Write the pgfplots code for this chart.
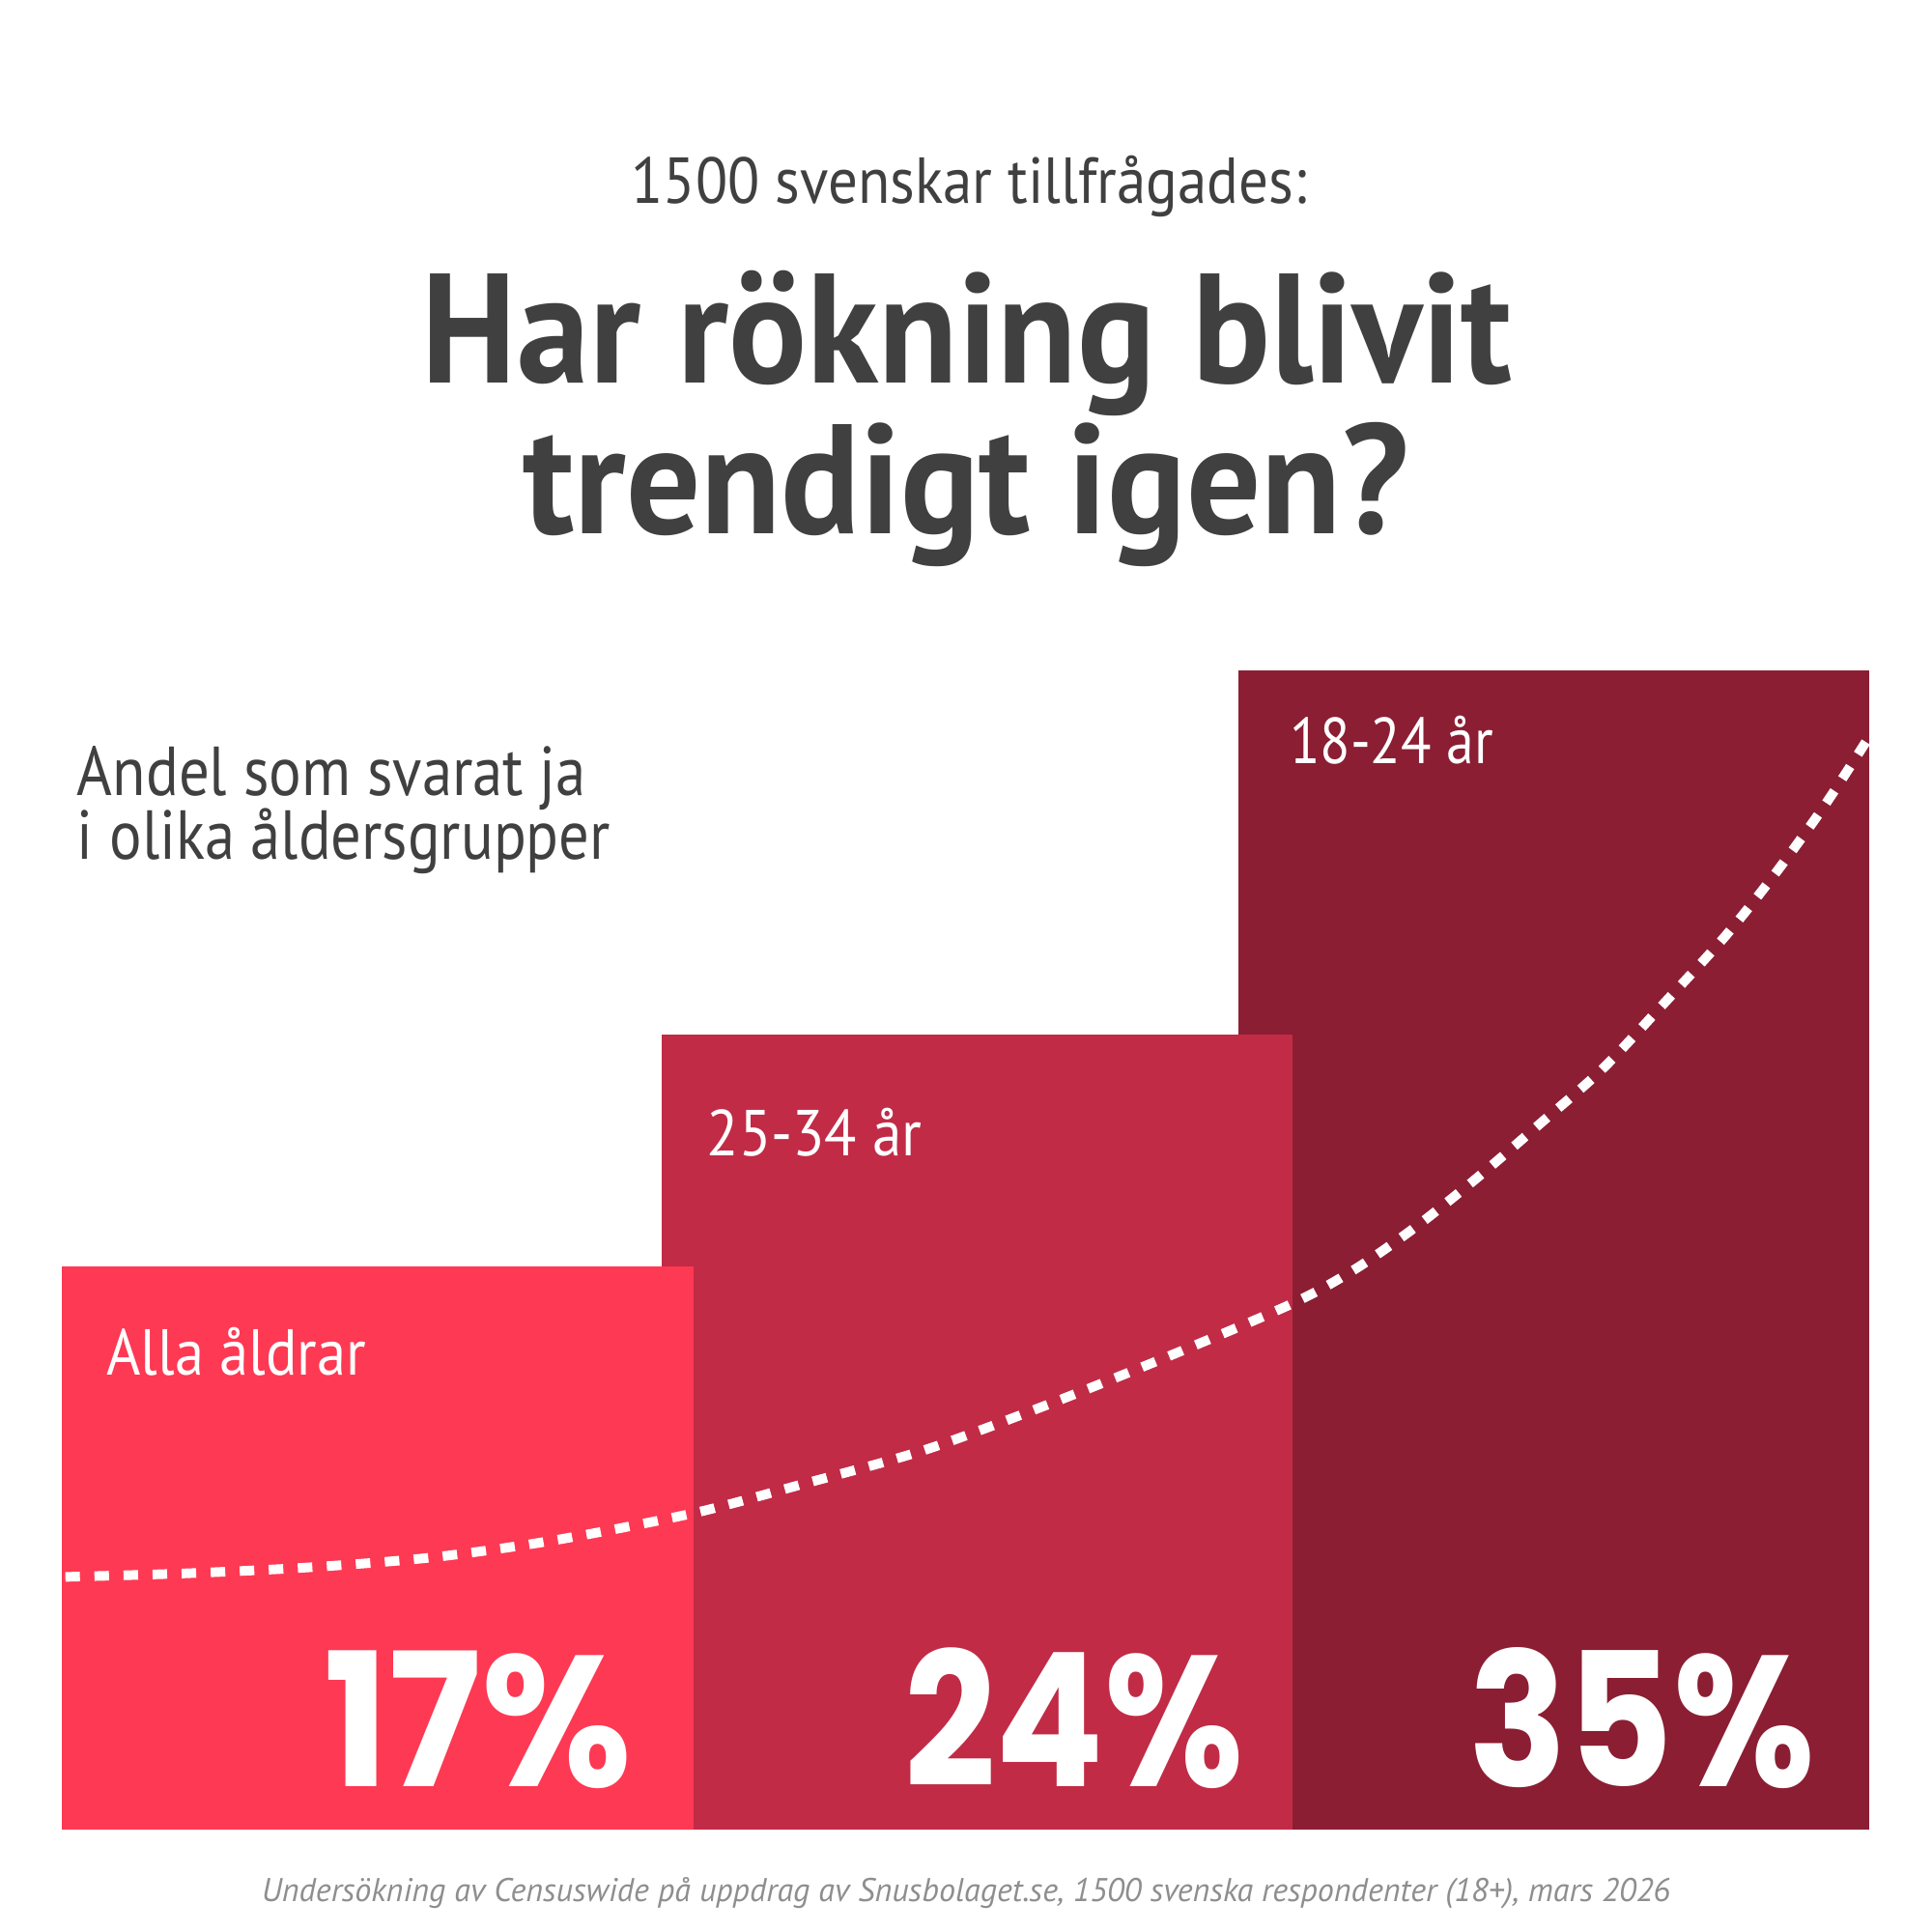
\documentclass[border=0pt]{standalone}
\usepackage{graphicx}
\usepackage{pgfplots}
\pgfplotsset{compat=1.18}
\usepackage{fontspec}
\setmainfont{PT Sans}
\newfontfamily\pop{Poppins}
\definecolor{barA}{HTML}{FE3953}
\definecolor{barB}{HTML}{C12B46}
\definecolor{barC}{HTML}{8B1E33}
\definecolor{txt}{HTML}{404040}
\definecolor{foot}{HTML}{8E8E8E}
\begin{document}
\begin{tikzpicture}
\fill[white] (0,0) rectangle (156.8mm,156.8mm);
\begin{axis}[at={(5mm,8.3mm)}, anchor=south west, scale only axis,
  width=146.7mm, height=107.52mm, xmin=50, xmax=1517, ymin=0, ymax=40,
  hide axis, bar shift=0pt, bar width=512.5]
\addplot[ybar, fill=barC, draw=none] coordinates {(1261,35)};
\addplot[ybar, fill=barB, draw=none] coordinates {(793,24)};
\addplot[ybar, fill=barA, draw=none] coordinates {(306.5,17)};
\addplot[white, line width=0.78mm, dash pattern=on 1.18mm off 1.18mm, dash phase=0.9mm, smooth] coordinates {
(40,7.60) (50,7.63) (150,7.74) (250,7.92) (350,8.22) (450,8.74) (563,9.56) (650,10.42)
(750,11.46) (850,12.83) (950,14.32) (1049,15.89) (1100,16.93) (1150,18.23)
(1200,19.72) (1250,21.32) (1300,22.95) (1350,24.93) (1400,26.97) (1440,28.83)
(1480,30.88) (1517,33.0) (1530,33.8)};
\end{axis}
\begin{scope}[x=0.1mm,y=0.1mm]
\node[anchor=base, text=txt, font=\fontsize{15}{18}\selectfont, inner sep=0] at (786.5,1403) {\scalebox{0.907}[1]{1500 svenskar tillfrågades:}};
\node[anchor=base, text=txt, font=\fontsize{36}{40}\selectfont\bfseries, inner sep=0] at (785,1257) {\scalebox{0.936}[1]{Har rökning blivit}};
\node[anchor=base, text=txt, font=\fontsize{36}{40}\selectfont\bfseries, inner sep=0] at (784,1135) {\scalebox{0.945}[1]{trendigt igen?}};
\node[anchor=base west, text=txt, font=\fontsize{16}{18}\selectfont, inner sep=0] at (62,922) {\scalebox{0.877}[1]{Andel som svarat ja}};
\node[anchor=base west, text=txt, font=\fontsize{16}{18}\selectfont, inner sep=0] at (62,871) {\scalebox{0.873}[1]{i olika åldersgrupper}};
\node[anchor=base west, text=white, font=\fontsize{15}{18}\selectfont, inner sep=0] at (1046,948) {\scalebox{0.86}[1]{18-24 år}};
\node[anchor=base west, text=white, font=\fontsize{15}{18}\selectfont, inner sep=0] at (573,630) {\scalebox{0.91}[1]{25-34 år}};
\node[anchor=base west, text=white, font=\fontsize{15}{18}\selectfont, inner sep=0] at (86,452) {\scalebox{0.90}[1]{Alla åldrar}};
\node[anchor=base east, text=white, font=\fontsize{43}{48}\selectfont\pop\bfseries, inner sep=0] at (514,118) {\scalebox{0.93}[1]{17\%}};
\node[anchor=base east, text=white, font=\fontsize{43}{48}\selectfont\pop\bfseries, inner sep=0] at (1010,118) {\scalebox{0.86}[1]{24\%}};
\node[anchor=base east, text=white, font=\fontsize{43}{48}\selectfont\pop\bfseries, inner sep=0] at (1474,118) {\scalebox{0.875}[1]{35\%}};
\node[anchor=base, text=foot, font=\fontsize{7.6}{9}\selectfont\itshape, inner sep=0] at (784,25) {Undersökning av Censuswide på uppdrag av Snusbolaget.se, 1500 svenska respondenter (18+), mars 2026};
\path[use as bounding box] (0,0) rectangle (1568,1568);
\end{scope}
\end{tikzpicture}
\end{document}
